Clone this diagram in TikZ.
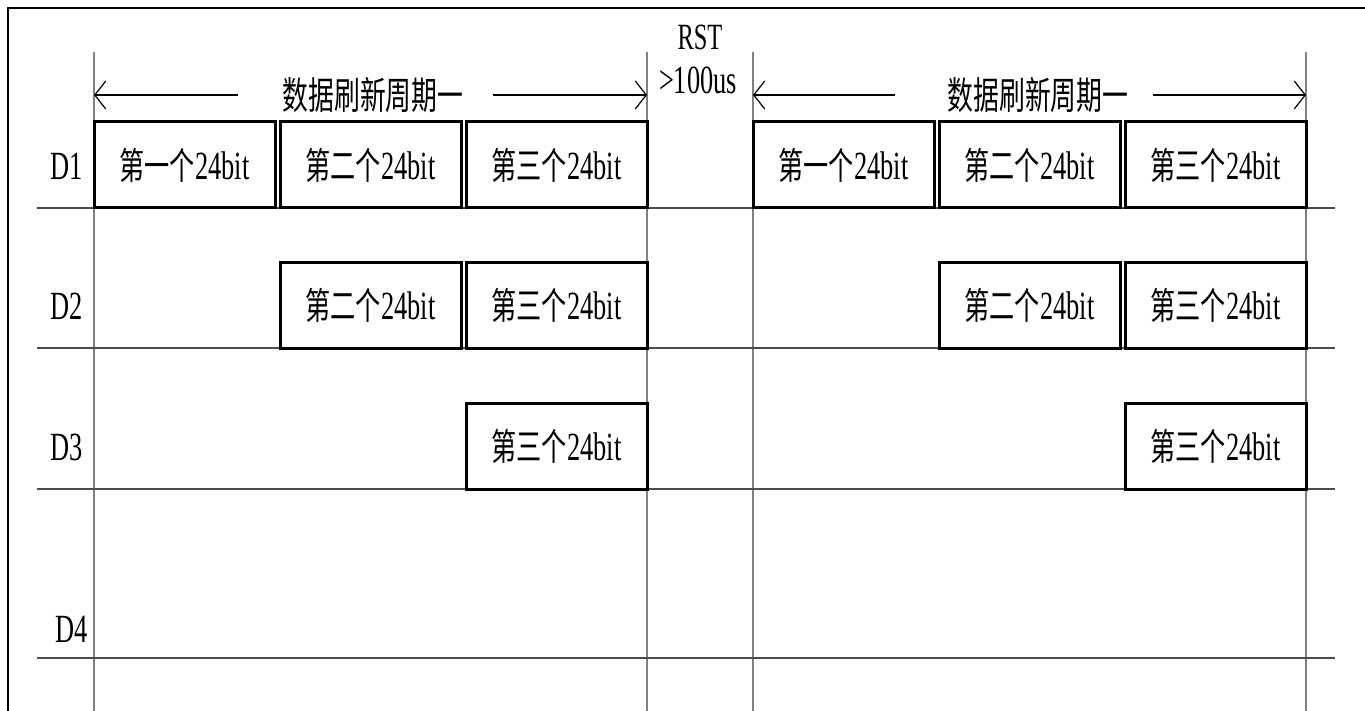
\documentclass[tikz,border=0pt]{standalone}
\usepackage{fontspec}
\setmainfont[FakeStretch=0.66]{Liberation Serif}
\newfontfamily\cjk[FakeStretch=0.68]{Noto Sans CJK SC}
\usetikzlibrary{positioning,arrows.meta}

\newcommand{\bitlabel}[1]{{\cjk\fontsize{37}{40}\selectfont 第#1个}24bit}

\tikzset{
  bitbox/.style={draw=black,line width=3pt,minimum width=181pt,minimum height=86pt,inner sep=0pt,font=\fontsize{40}{44}\selectfont},
  rowlabel/.style={font=\fontsize{40}{44}\selectfont,inner sep=0pt},
  cyclabel/.style={font=\cjk\fontsize{38}{42}\selectfont,inner sep=0pt},
  timeline/.style={draw=black!50,line width=1.5pt},
  gridline/.style={draw=black!70,line width=1.3pt},
  span/.style={draw=black,line width=1.3pt,-{Straight Barb[length=11pt,width=28pt,line width=1.2pt]}}
}

\begin{document}
\begin{tikzpicture}[x=1pt,y=-1pt]
    \useasboundingbox (0,0) rectangle (1365,711);
    \fill[white] (0,0) rectangle (1365,711);
    % frame
    \draw[line width=2pt] (8,711) -- (8,8) -- (1365,8);

    % time marks
    \draw[timeline] (94,52) -- (94,711);
    \draw[timeline] (647,52) -- (647,711);
    \draw[timeline] (753,52) -- (753,711);
    \draw[timeline] (1306,52) -- (1306,711);

    % row base lines
    \draw[gridline] (37,208) -- (1335,208);
    \draw[gridline] (37,348) -- (1335,348);
    \draw[gridline] (37,489) -- (1335,489);
    \draw[gridline] (37,658) -- (1335,658);

    % row labels
    \node[rowlabel] (d1) at (67,166) {D1};
    \node[rowlabel] (d2) at (67,306) {D2};
    \node[rowlabel] (d3) at (67,447) {D3};
    \node[rowlabel] (d4) at (72,629) {D4};

    % refresh periods
    \node[cyclabel] (cycA) at (373,95) {数据刷新周期一};
    \node[cyclabel] (cycB) at (1038,95) {数据刷新周期一};
    \coordinate (a1) at (238,95);  \coordinate (a2) at (94,95);
    \coordinate (a3) at (493,95);  \coordinate (a4) at (647,95);
    \coordinate (b1) at (895,95);  \coordinate (b2) at (753,95);
    \coordinate (b3) at (1153,95); \coordinate (b4) at (1306,95);
    \draw[span] (a1) -- (a2);
    \draw[span] (a3) -- (a4);
    \draw[span] (b1) -- (b2);
    \draw[span] (b3) -- (b4);

    % reset gap
    \node[rowlabel,font=\fontsize{37}{40}\selectfont] (rst) at (700,37) {RST};
    \node[rowlabel] (gap) at (698,80) {>100us};

    % first period
    \node[bitbox] (p1a) at (184.5,165) {\bitlabel{一}};
    \node[bitbox] (p1b) at (370.5,165) {\bitlabel{二}};
    \node[bitbox] (p1c) at (556.5,165) {\bitlabel{三}};
    \node[bitbox] (p2b) at (370.5,305.5) {\bitlabel{二}};
    \node[bitbox] (p2c) at (556.5,305.5) {\bitlabel{三}};
    \node[bitbox] (p3c) at (556.5,446.5) {\bitlabel{三}};

    % second period
    \node[bitbox] (q1a) at (843.5,165) {\bitlabel{一}};
    \node[bitbox] (q1b) at (1029.5,165) {\bitlabel{二}};
    \node[bitbox] (q1c) at (1215.5,165) {\bitlabel{三}};
    \node[bitbox] (q2b) at (1029.5,305.5) {\bitlabel{二}};
    \node[bitbox] (q2c) at (1215.5,305.5) {\bitlabel{三}};
    \node[bitbox] (q3c) at (1215.5,446.5) {\bitlabel{三}};
\end{tikzpicture}
\end{document}
